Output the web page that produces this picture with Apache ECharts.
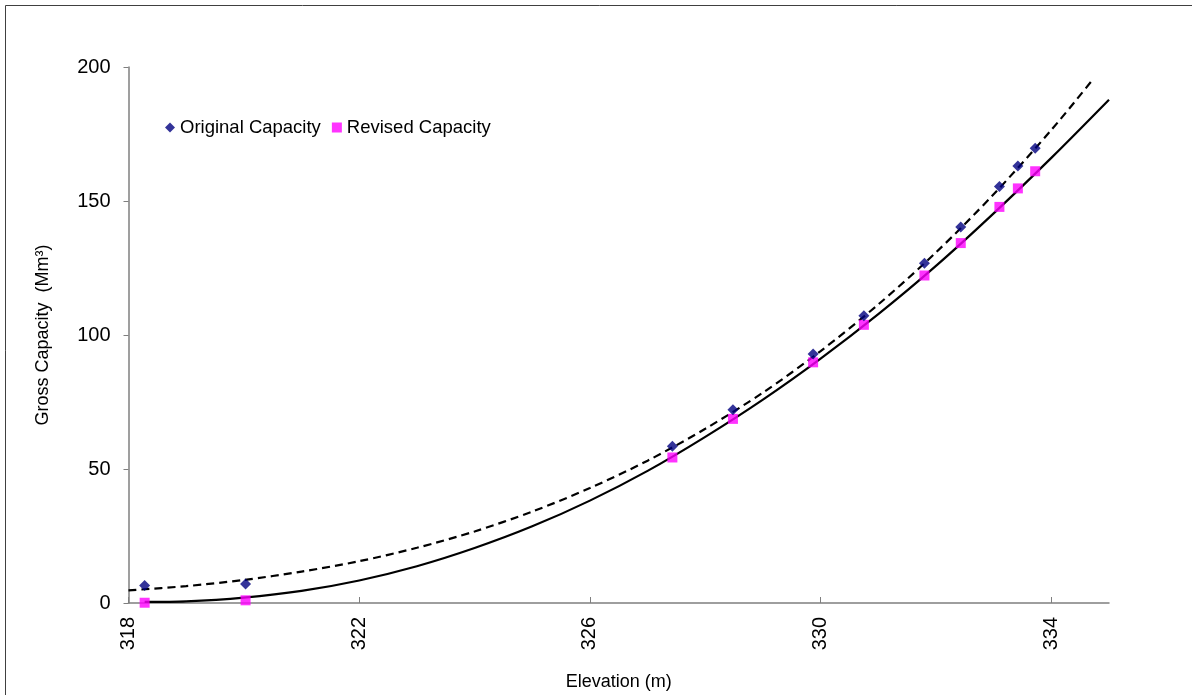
<!DOCTYPE html>
<html>
<head>
<meta charset="utf-8">
<title>Gross Capacity vs Elevation</title>
<script src="https://cdn.jsdelivr.net/npm/echarts@6/dist/echarts.min.js"></script>
<style>
  html, body { margin: 0; padding: 0; background: #ffffff; }
  #chart { width: 1192px; height: 695px; }
</style>
</head>
<body>
<div id="chart"></div>
<script>
// Survey elevations (m)
const elevation = [318.28, 320.03, 327.43, 328.48, 329.87, 330.75, 331.80, 332.43, 333.10, 333.42, 333.72];
// Gross capacity (Mm³) at each elevation
const originalCapacity = [6.5, 7.1, 58.5, 72.1, 92.9, 107.2, 126.8, 140.3, 155.4, 163.1, 169.7];
const revisedCapacity  = [0.1, 1.0, 54.3, 68.7, 89.8, 103.8, 122.2, 134.3, 147.8, 154.7, 161.1];

// Trend curves read along their paths
const originalTrendX = [318, 319, 320, 321, 322, 323, 324, 325, 326, 327, 328, 329, 330, 331, 332, 333, 334, 334.73];
const originalTrendY = [4.7, 6.3, 8.6, 11.7, 15.6, 20.6, 26.7, 34.1, 42.9, 53.1, 65.0, 78.5, 94.0, 111.4, 130.8, 152.5, 176.5, 195.6];
const revisedTrendX  = [318.28, 319, 320, 321, 322, 323, 324, 325, 326, 327, 328, 329, 330, 331, 332, 333, 334, 335];
const revisedTrendY  = [0.4, 0.6, 2.0, 4.5, 8.4, 13.7, 20.5, 28.6, 38.2, 49.3, 62.0, 75.9, 91.2, 107.8, 125.8, 145.4, 166.1, 187.8];

// Axis ticks
const xTicks = [318, 322, 326, 330, 334];
const yTicks = [0, 50, 100, 150, 200];

const pairs = (xs, ys) => xs.map((x, i) => [x, ys[i]]);

const font = '"Liberation Sans", Arial, sans-serif';
const axisGrey = '#7f7f7f';

const chart = echarts.init(document.getElementById('chart'), null, { renderer: 'canvas' });

chart.setOption({
  animation: false,
  backgroundColor: '#ffffff',
  textStyle: { fontFamily: font, color: '#000' },
  graphic: [{
    type: 'rect',
    silent: true,
    shape: { x: 5.5, y: 5.5, width: 1400, height: 900 },
    style: { fill: 'none', stroke: '#404040', lineWidth: 1 }
  }],
  grid: { left: 128.5, right: 83, top: 67, bottom: 92, containLabel: false, outerBoundsMode: 'none' },
  legend: {
    left: 160,
    top: 113,
    itemWidth: 10,
    itemHeight: 10,
    itemGap: 11,
    textStyle: { fontFamily: font, fontSize: 18.5, color: '#000' },
    data: [
      { name: 'Original Capacity', icon: 'diamond' },
      { name: 'Revised Capacity', icon: 'rect' }
    ]
  },
  xAxis: {
    type: 'value',
    min: 318,
    max: 335,
    interval: 4,
    name: 'Elevation (m)',
    nameLocation: 'middle',
    nameGap: 70,
    nameTextStyle: { fontFamily: font, fontSize: 18, color: '#000' },
    axisLine: { show: true, onZero: false, lineStyle: { color: axisGrey, width: 1.5 } },
    axisTick: { show: true, inside: true, length: 6, customValues: xTicks, lineStyle: { color: axisGrey, width: 1 } },
    axisLabel: { rotate: 90, margin: 14, fontSize: 20, color: '#000', fontFamily: font, customValues: xTicks },
    splitLine: { show: false }
  },
  yAxis: {
    type: 'value',
    min: 0,
    max: 200,
    interval: 50,
    name: 'Gross Capacity  (Mm³)',
    nameLocation: 'middle',
    nameGap: 76,
    nameRotate: 90,
    nameTextStyle: { fontFamily: font, fontSize: 18, color: '#000' },
    axisLine: { show: true, lineStyle: { color: axisGrey, width: 1.5 } },
    axisTick: { show: true, inside: false, length: 5, customValues: yTicks, lineStyle: { color: axisGrey, width: 1 } },
    axisLabel: { margin: 18, fontSize: 20, color: '#000', fontFamily: font, customValues: yTicks },
    splitLine: { show: false }
  },
  series: [
    {
      name: 'Original trend',
      type: 'line',
      data: pairs(originalTrendX, originalTrendY),
      smooth: 0.3,
      showSymbol: false,
      silent: true,
      clip: true,
      lineStyle: { color: '#000', width: 2.2, type: [8, 5] },
      z: 2
    },
    {
      name: 'Revised trend',
      type: 'line',
      data: pairs(revisedTrendX, revisedTrendY),
      smooth: 0.3,
      showSymbol: false,
      silent: true,
      clip: true,
      lineStyle: { color: '#000', width: 2.2, type: 'solid' },
      z: 2
    },
    {
      name: 'Revised Capacity',
      type: 'scatter',
      symbol: 'rect',
      symbolSize: 10,
      data: pairs(elevation, revisedCapacity),
      itemStyle: { color: '#ff00ff' },
      z: 3
    },
    {
      name: 'Original Capacity',
      type: 'scatter',
      symbol: 'diamond',
      symbolSize: 11,
      data: pairs(elevation, originalCapacity),
      itemStyle: { color: '#000080' },
      z: 4
    }
  ]
});
</script>
</body>
</html>
